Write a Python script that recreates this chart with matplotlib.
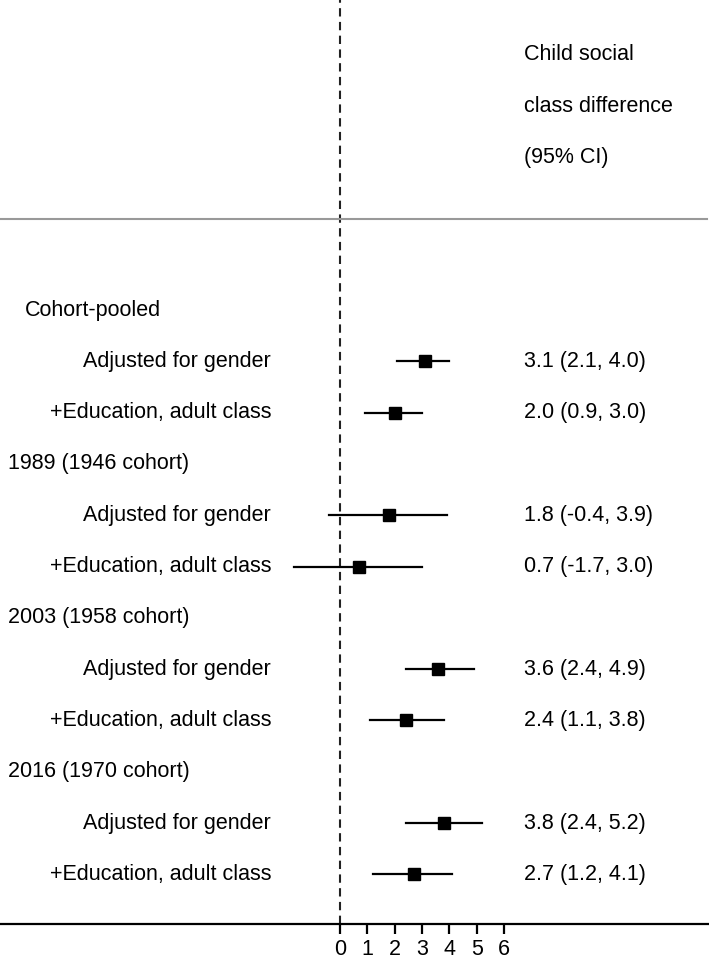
"""Forest plot: child social class difference by cohort, written to out.png."""

import matplotlib.pyplot as plt

groups = ["Cohort-pooled", "1989 (1946 cohort)", "2003 (1958 cohort)", "2016 (1970 cohort)"]
models = ["Adjusted for gender", "+Education, adult class"]
estimate = [3.1, 2.0, 1.8, 0.7, 3.6, 2.4, 3.8, 2.7]
ci_low = [2.1, 0.9, -0.4, -1.7, 2.4, 1.1, 2.4, 1.2]
ci_high = [4.0, 3.0, 3.9, 3.0, 4.9, 3.8, 5.2, 4.1]
xticks = [0, 1, 2, 3, 4, 5, 6]
header = ["Child social", "class difference", "(95% CI)"]

W, H = 709, 963
X0, UNIT = 340, 27.33        # pixel of x=0, pixels per unit
AXIS_Y = 924                 # pixel row of the x axis
ROW0, ROW_H = 310, 51.3
RIGHT_COL = 524

plt.rcParams["font.family"] = ["Liberation Sans", "DejaVu Sans"]
FS = 15.5


def px(x):
    return (x - X0) / UNIT


fig = plt.figure(figsize=(W / 100, H / 100), dpi=100)
ax = fig.add_axes([0, (H - AXIS_Y) / H, 1, AXIS_Y / H])
ax.set_xlim(px(0), px(W))
ax.set_ylim(AXIS_Y, 0)
for s in ("top", "left", "right"):
    ax.spines[s].set_visible(False)
ax.spines["bottom"].set_linewidth(1.6)
ax.set_yticks([])
ax.set_xticks(xticks)
ax.tick_params(axis="x", length=7.5, width=1.6, labelsize=FS, pad=3)

ax.axvline(0, color="#222222", lw=1.5, ls=(0, (4, 2.6)), zorder=1)
ax.axhline(219, xmin=0, xmax=707 / W, color="#999999", lw=1.5)

for i, line in enumerate(header):
    ax.text(px(RIGHT_COL), 54 + 52 * i, line, ha="left", va="center", fontsize=FS)

row = 0
k = 0
for g in groups:
    y = ROW0 + ROW_H * row
    gx = 25 if g == "Cohort-pooled" else 8
    ax.text(px(gx), y, g, ha="left", va="center", fontsize=FS)
    row += 1
    for m in models:
        y = ROW0 + ROW_H * row
        ax.text(px(271), y, m, ha="right", va="center", fontsize=FS)
        ax.plot([ci_low[k], ci_high[k]], [y, y], color="black", lw=1.6, zorder=2)
        ax.plot(estimate[k], y, marker="s", ms=8, color="black", zorder=3)
        ax.text(px(RIGHT_COL), y, f"{estimate[k]:.1f} ({ci_low[k]:.1f}, {ci_high[k]:.1f})",
                ha="left", va="center", fontsize=FS)
        row += 1
        k += 1

fig.savefig("out.png", dpi=100)
